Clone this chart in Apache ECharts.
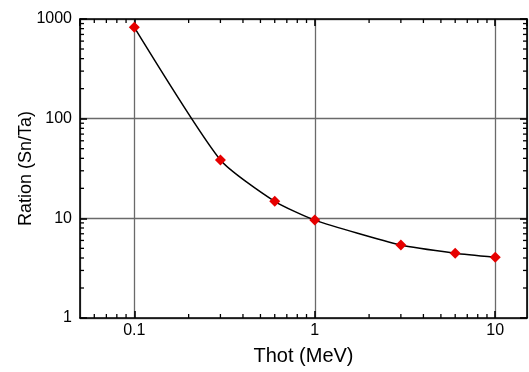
<!DOCTYPE html>
<html>
<head>
<meta charset="utf-8">
<script src="https://cdn.jsdelivr.net/npm/echarts@6/dist/echarts.min.js"></script>
<style>html,body{margin:0;padding:0;background:#fff;}#c{width:529px;height:372px;}</style>
</head>
<body>
<div id="c"></div>
<script>
// Data
var thot = [0.1, 0.3, 0.6, 1, 3, 6, 10];
var ratio = [825, 38.5, 14.8, 9.6, 5.4, 4.47, 4.07];
var xMajorLabels = ['0.1', '1', '10'];
var yMajorLabels = ['1', '10', '100', '1000'];
var xMinorTicks = [0.06, 0.07, 0.08, 0.09, 0.2, 0.3, 0.4, 0.5, 0.6, 0.7, 0.8, 0.9, 2, 3, 4, 5, 6, 7, 8, 9];
var yMinorTicks = [2, 3, 4, 5, 6, 7, 8, 9, 20, 30, 40, 50, 60, 70, 80, 90, 200, 300, 400, 500, 600, 700, 800, 900];
var X_MIN = 0.05, X_MAX = 15, Y_MIN = 1, Y_MAX = 1000;

var FONT = '"Liberation Sans", Arial, Helvetica, sans-serif';
var chart = echarts.init(document.getElementById('c'), null, {renderer: 'canvas'});

function fmtX(v) {
  var s = String(+v.toPrecision(6));
  return xMajorLabels.indexOf(s) >= 0 ? s : '';
}
function fmtY(v) {
  var s = String(+v.toPrecision(6));
  return yMajorLabels.indexOf(s) >= 0 ? s : '';
}

var frameLine = {show: true, lineStyle: {color: '#000', width: 1.6}};
var majorTick = {show: true, inside: true, length: 7, lineStyle: {color: '#000', width: 1.6}};
var grid = {show: true, lineStyle: {color: '#6a6a6a', width: 1.3}};

var tickStyle = {stroke: '#000', lineWidth: 1.3};

var option = {
  animation: false,
  backgroundColor: '#fff',
  grid: {left: 80, right: 2, top: 19, bottom: 54, containLabel: false},
  xAxis: [{
    type: 'log', logBase: 10, min: X_MIN, max: X_MAX, position: 'bottom',
    axisLine: frameLine, axisTick: majorTick, splitLine: grid,
    axisLabel: {formatter: fmtX, fontFamily: FONT, fontSize: 16, color: '#000', margin: 5,
      showMinLabel: false, showMaxLabel: false},
    name: 'Thot (MeV)', nameLocation: 'middle', nameGap: 28, nameMoveOverlap: false,
    nameTextStyle: {fontFamily: FONT, fontSize: 20, color: '#000'}
  }, {
    type: 'log', logBase: 10, min: X_MIN, max: X_MAX, position: 'top',
    axisLine: frameLine, axisTick: majorTick, splitLine: {show: false},
    axisLabel: {show: false}
  }],
  yAxis: [{
    type: 'log', logBase: 10, min: Y_MIN, max: Y_MAX, position: 'left',
    axisLine: frameLine, axisTick: majorTick, splitLine: grid,
    axisLabel: {formatter: fmtY, fontFamily: FONT, fontSize: 16, color: '#000', margin: 8},
    name: 'Ration (Sn/Ta)', nameLocation: 'middle', nameGap: 45, nameMoveOverlap: false,
    nameTextStyle: {fontFamily: FONT, fontSize: 18, color: '#000'}
  }, {
    type: 'log', logBase: 10, min: Y_MIN, max: Y_MAX, position: 'right',
    axisLine: frameLine, axisTick: majorTick, splitLine: {show: false},
    axisLabel: {show: false}
  }],
  series: [{
    type: 'custom',
    xAxisIndex: 0, yAxisIndex: 0,
    silent: true, clip: false, z: 5,
    data: xMinorTicks.map(function (v) { return [v, Y_MIN]; }),
    renderItem: function (params, api) {
      var v = api.value(0);
      var b = api.coord([v, Y_MIN]);
      var t = api.coord([v, Y_MAX]);
      return {type: 'group', children: [
        {type: 'line', shape: {x1: b[0], y1: b[1], x2: b[0], y2: b[1] - 4}, style: tickStyle},
        {type: 'line', shape: {x1: t[0], y1: t[1], x2: t[0], y2: t[1] + 4}, style: tickStyle}
      ]};
    }
  }, {
    type: 'custom',
    xAxisIndex: 0, yAxisIndex: 0,
    silent: true, clip: false, z: 5,
    data: yMinorTicks.map(function (v) { return [X_MIN, v]; }),
    renderItem: function (params, api) {
      var v = api.value(1);
      var l = api.coord([X_MIN, v]);
      var r = api.coord([X_MAX, v]);
      return {type: 'group', children: [
        {type: 'line', shape: {x1: l[0], y1: l[1], x2: l[0] + 4, y2: l[1]}, style: tickStyle},
        {type: 'line', shape: {x1: r[0], y1: r[1], x2: r[0] - 4, y2: r[1]}, style: tickStyle}
      ]};
    }
  }, {
    type: 'line',
    xAxisIndex: 0, yAxisIndex: 0,
    data: thot.map(function (x, i) { return [x, ratio[i]]; }),
    smooth: 0.2,
    symbol: 'diamond', symbolSize: 11,
    itemStyle: {color: '#e60000', borderWidth: 0},
    lineStyle: {color: '#000', width: 1.5},
    z: 10
  }]
};
chart.setOption(option);
</script>
</body>
</html>
